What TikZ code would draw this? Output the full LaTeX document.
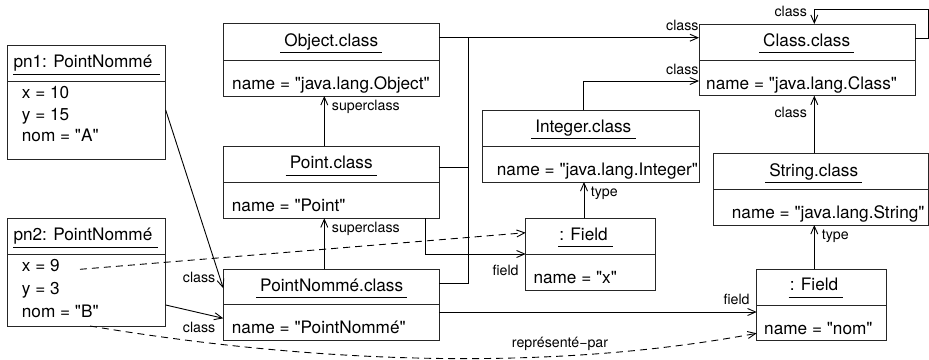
\documentclass[tikz,border=0pt]{standalone}
\usepackage{fontspec}
\setmainfont{TeX Gyre Heros}[Ligatures=TeXOff]
\usetikzlibrary{arrows.meta,calc}
\begin{document}
\begin{tikzpicture}[x=1pt,y=-1pt]
\tikzset{
 box/.style={draw=black!85, line width=1pt, rectangle, inner sep=0pt, outer sep=0pt},
 div/.style={draw=black!85, line width=1pt},
 hd/.style={anchor=base, inner sep=0pt, font=\fontsize{17.2}{20}\selectfont},
 bd/.style={anchor=base west, inner sep=0pt, font=\fontsize{17.2}{20}\selectfont},
 lbl/.style={anchor=base west, inner sep=0pt, font=\fontsize{14.2}{16}\selectfont},
 conn/.style={line width=0.9pt},
 arr/.style={conn, -{Straight Barb[length=8pt,width=7pt,line width=0.9pt]}},
 dsh/.style={dash pattern=on 7pt off 5pt},
 ul/.style={line width=0.9pt},
}
\useasboundingbox (0,0) rectangle (929,359);

% ---------- boxes ----------
\node[box, minimum width=158.4pt, minimum height=114.3pt] (pn1) at (86.5,102.15) {};
\node[box, minimum width=158.4pt, minimum height=107.7pt] (pn2) at (86.5,272.15) {};
\node[box, minimum width=216pt, minimum height=72.7pt] (obj) at (331.3,59.65) {};
\node[box, minimum width=216pt, minimum height=72.3pt] (pt) at (331.3,182.15) {};
\node[box, minimum width=216pt, minimum height=71.4pt] (pnc) at (331.3,305) {};
\node[box, minimum width=216.3pt, minimum height=72pt] (int) at (590.85,146) {};
\node[box, minimum width=216pt, minimum height=71.7pt] (cls) at (807,59.85) {};
\node[box, minimum width=215pt, minimum height=71.7pt] (str) at (820.8,189.15) {};
\node[box, minimum width=130pt, minimum height=71.7pt] (fx) at (590.7,254.15) {};
\node[box, minimum width=129.3pt, minimum height=71.7pt] (fn) at (821.35,304.85) {};

% dividers
\draw[div] (pn1.west |- 0,81.7) -- (pn1.east |- 0,81.7);
\draw[div] (pn2.west |- 0,254) -- (pn2.east |- 0,254);
\draw[div] (obj.west |- 0,60) -- (obj.east |- 0,60);
\draw[div] (pt.west |- 0,182.3) -- (pt.east |- 0,182.3);
\draw[div] (pnc.west |- 0,304.3) -- (pnc.east |- 0,304.3);
\draw[div] (int.west |- 0,146) -- (int.east |- 0,146);
\draw[div] (cls.west |- 0,60) -- (cls.east |- 0,60);
\draw[div] (str.west |- 0,189.3) -- (str.east |- 0,189.3);
\draw[div] (fx.west |- 0,254) -- (fx.east |- 0,254);
\draw[div] (fn.west |- 0,305) -- (fn.east |- 0,305);

% ---------- headers ----------
\node[bd] (pn1h) at (13.3,67.7) {pn1: PointNommé};
\draw[ul] ($(pn1h.base west)+(0,6.3)$) -- ($(pn1h.base east)+(7,6.3)$);
\node[bd] (pn2h) at (13.3,240.7) {pn2: PointNommé};
\draw[ul] ($(pn2h.base west)+(0,6.3)$) -- ($(pn2h.base east)+(5,6.3)$);

\node[hd] (objh) at (331.3,46) {Object.class};
\node[hd] (pth) at (331.3,168.7) {Point.class};
\node[hd] (pnch) at (331.7,291.2) {PointNommé.class};
\node[hd] (inth) at (583.3,132.3) {Integer.class};
\node[hd] (clsh) at (806.7,46) {Class.class};
\node[hd] (strh) at (813.7,176) {String.class};
\node[hd] (fxh) at (583.5,240) {: Field};
\node[hd] (fnh) at (814,290.7) {: Field};
\foreach \n in {objh,pth,pnch,inth,clsh,strh}
  \draw[ul] ($(\n.base west)+(-4,6.3)$) -- ($(\n.base east)+(4,6.3)$);
\foreach \n in {fxh,fnh}
  \draw[ul] ($(\n.base west)+(-1,6.3)$) -- ($(\n.base east)+(5,6.3)$);

% ---------- bodies ----------
\node[bd] (pn1a) at (21.7,98.3) {x = 10};
\node[bd] (pn1b) at (21.7,120) {y = 15};
\node[bd] (pn1c) at (21.7,141.7) {nom = "A"};
\node[bd] (pn2a) at (21.7,271.7) {x = 9};
\node[bd] (pn2b) at (21.7,294.3) {y = 3};
\node[bd] (pn2c) at (21.7,317.3) {nom = "B"};
\node[bd] (objb) at (232,89.3) {name = "java.lang.Object"};
\node[bd] (ptb) at (231.7,211.6) {name = "Point"};
\node[bd] (pncb) at (231.7,333.8) {name = "PointNommé"};
\node[bd] (intb) at (496.7,175.7) {name = "java.lang.Integer"};
\node[bd] (clsb) at (706,89.3) {name = "java.lang.Class"};
\node[bd] (strb) at (731.7,218.3) {name = "java.lang.String"};
\node[bd] (fxb) at (533.3,283.3) {name = "x"};
\node[bd] (fnb) at (764,334) {name = "nom"};

% ---------- labels ----------
\node[lbl] (l1) at (331.7,110) {superclass};
\node[lbl] (l2) at (331.7,232.3) {superclass};
\node[lbl] (l3) at (182.7,282.7) {class};
\node[lbl] (l4) at (182.7,332.7) {class};
\node[lbl] (l5) at (666,30.7) {class};
\node[lbl] (l6) at (666,74) {class};
\node[lbl] (l7) at (774.3,16.7) {class};
\node[lbl] (l8) at (774.3,117.3) {class};
\node[lbl] (l9) at (590.7,196.7) {type};
\node[lbl] (l10) at (821.7,239) {type};
\node[lbl] (l11) at (492.3,275.7) {field};
\node[lbl] (l12) at (723.3,304) {field};
\node[lbl] (l13) at (511.7,347.5) {représenté−par};

% ---------- connectors ----------
\coordinate (bus) at (468.3,37.7);
\coordinate (x9) at (80,269.3);
\draw[arr] (obj.east |- 0,37.7) -- (cls.west |- 0,37.7);
\draw[conn] (pt.east |- 0,167.7) -| (bus);
\draw[conn] (pnc.east |- 0,283.3) -| (bus);
\draw[arr] (int.north -| 583.3,0) |- (cls.west |- 0,81);
\draw[arr] (cls.east |- 0,38.3) -| (928.3,9.3) -| (cls.north -| 814.3,0);
\draw[arr] (str.north -| 814.3,0) -- (cls.south -| 814.3,0);
\draw[arr] (fx.north -| 584,0) -- (int.south -| 584,0);
\draw[arr] (fn.north -| 814.3,0) -- (str.south -| 814.3,0);
\draw[arr] (pnc.north -| 324.3,0) -- (pt.south -| 324.3,0);
\draw[arr] (pt.north -| 324.3,0) -- (obj.south -| 324.3,0);
\draw[arr] (pt.south -| 425,0) |- (fx.west |- 0,254);
\draw[arr] (pnc.east |- 0,312) -- (fn.west |- 0,312);
\draw[arr] (pn1.east |- 0,110) -- (pnc.west |- 0,288.3);
\draw[arr] (pn2.east |- 0,305) -- (pnc.west |- 0,318.3);
\draw[arr, dsh] (x9) -- (fx.west |- 0,232.7);
\draw[arr, dsh] (pn2.south -| 90,0) .. controls (330,366) and (560,370) .. (fn.west |- 0,333.3);
\end{tikzpicture}
\end{document}
